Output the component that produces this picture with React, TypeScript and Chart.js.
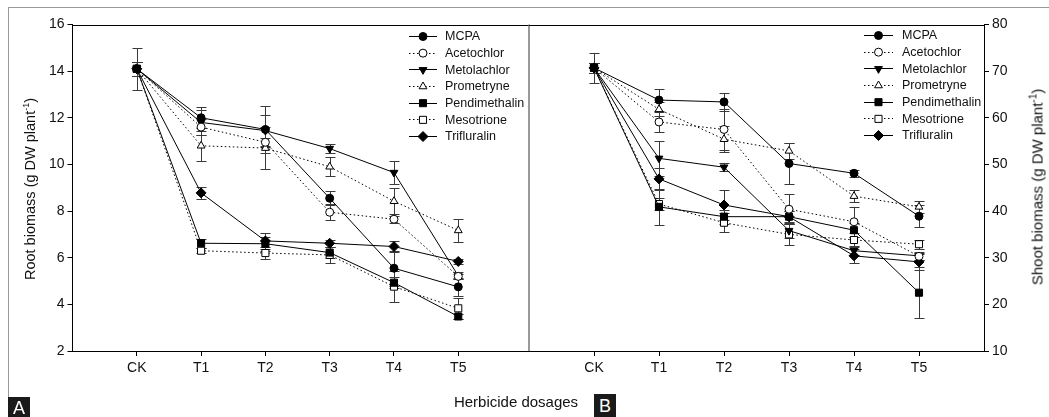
import React, { useEffect, useRef } from 'react';
import { Chart, registerables } from 'chart.js';
import { drawPoint } from 'chart.js/helpers';

Chart.register(...registerables);

// ---------- data ----------
const categories = ['CK', 'T1', 'T2', 'T3', 'T4', 'T5'];
const seriesNames = ['MCPA', 'Acetochlor', 'Metolachlor', 'Prometryne', 'Pendimethalin', 'Mesotrione', 'Trifluralin'];

const rootTicks = [2, 4, 6, 8, 10, 12, 14, 16];
const shootTicks = [10, 20, 30, 40, 50, 60, 70, 80];

// Panel A: root biomass (g DW plant-1)
const rootMCPA = [14.1, 12.0, 11.5, 8.55, 5.55, 4.75];
const rootAcetochlor = [14.1, 11.6, 10.95, 7.95, 7.65, 5.2];
const rootMetolachlor = [14.1, 11.8, 11.45, 10.68, 9.65, 5.22];
const rootPrometryne = [14.1, 10.8, 10.7, 9.9, 8.42, 7.17];
const rootPendimethalin = [14.1, 6.62, 6.6, 6.22, 4.93, 3.48];
const rootMesotrione = [14.1, 6.3, 6.2, 6.12, 4.76, 3.83];
const rootTrifluralin = [14.1, 8.78, 6.72, 6.62, 6.48, 5.84];

const rootErrMCPA = [0.9, 0.45, 1.0, 0.3, 0.75, 0.4];
const rootErrAcetochlor = [0.3, 0.35, 0.2, 0.35, 0.15, 0.1];
const rootErrMetolachlor = [0.3, 0.55, 0.65, 0.2, 0.5, 0.15];
const rootErrPrometryne = [0.3, 0.65, 0.9, 0.4, 0.55, 0.5];
const rootErrPendimethalin = [0.3, 0.2, 0.3, 0.25, 0.25, 0.1];
const rootErrMesotrione = [0.3, 0.1, 0.25, 0.35, 0.65, 0.45];
const rootErrTrifluralin = [0.3, 0.25, 0.35, 0.15, 0.25, 0.1];

// Panel B: shoot biomass (g DW plant-1)
const shootMCPA = [70.7, 63.8, 63.4, 50.2, 48.1, 38.9];
const shootAcetochlor = [70.7, 59.1, 57.5, 40.4, 37.7, 30.3];
const shootMetolachlor = [70.7, 51.3, 49.4, 35.8, 31.5, 30.4];
const shootPrometryne = [70.7, 61.8, 55.4, 52.9, 43.2, 40.9];
const shootPendimethalin = [70.7, 40.9, 38.8, 38.8, 35.9, 22.5];
const shootMesotrione = [70.7, 41.5, 37.5, 35.0, 33.8, 32.9];
const shootTrifluralin = [70.7, 46.9, 41.3, 38.8, 30.4, 29.1];

const shootErrMCPA = [3.2, 2.3, 2.0, 4.3, 0.7, 2.4];
const shootErrAcetochlor = [1.0, 2.2, 4.3, 3.2, 3.2, 0.8];
const shootErrMetolachlor = [1.0, 3.7, 0.8, 1.5, 1.0, 0.8];
const shootErrPrometryne = [1.0, 1.5, 2.8, 1.8, 1.3, 1.3];
const shootErrPendimethalin = [1.0, 3.8, 1.5, 1.3, 1.5, 5.5];
const shootErrMesotrione = [1.0, 1.2, 2.0, 2.3, 1.5, 1.0];
const shootErrTrifluralin = [1.0, 2.3, 3.2, 1.2, 1.5, 1.7];

const rootValues = [rootMCPA, rootAcetochlor, rootMetolachlor, rootPrometryne, rootPendimethalin, rootMesotrione, rootTrifluralin];
const rootErrors = [rootErrMCPA, rootErrAcetochlor, rootErrMetolachlor, rootErrPrometryne, rootErrPendimethalin, rootErrMesotrione, rootErrTrifluralin];
const shootValues = [shootMCPA, shootAcetochlor, shootMetolachlor, shootPrometryne, shootPendimethalin, shootMesotrione, shootTrifluralin];
const shootErrors = [shootErrMCPA, shootErrAcetochlor, shootErrMetolachlor, shootErrPrometryne, shootErrPendimethalin, shootErrMesotrione, shootErrTrifluralin];

// ---------- styles ----------
const FONT = '"Liberation Sans", Arial, Helvetica, sans-serif';
const seriesDotted = [false, true, false, true, false, true, false];
const seriesPointStyle = ['circle', 'circle', 'triangle', 'triangle', 'rect', 'rect', 'rectRot'];
const seriesRotation = [0, 0, 180, 0, 0, 0, 0];
const seriesRadius = [4, 4, 4.5, 4.5, 5, 5, 5];
const seriesFilled = [true, false, true, false, true, false, true];
const DOT = [1.5, 2.5];

function buildDatasets(values: number[][], errors: number[][]) {
  return seriesNames.map((name, i) => ({
    label: name,
    data: values[i].map((v, j) => ({ x: j + 1, y: v })),
    errors: errors[i],
    borderColor: '#000',
    borderWidth: 1,
    borderDash: seriesDotted[i] ? DOT : [],
    pointStyle: seriesPointStyle[i],
    pointRotation: seriesRotation[i],
    pointRadius: seriesRadius[i],
    pointBackgroundColor: seriesFilled[i] ? '#000' : '#fff',
    pointBorderColor: '#000',
    pointBorderWidth: 1,
    tension: 0,
    fill: false,
  }));
}

const errorBarPlugin = {
  id: 'errorBars',
  beforeDatasetsDraw(chart: any) {
    const ctx = chart.ctx;
    const yScale = chart.scales.y;
    ctx.save();
    ctx.strokeStyle = '#3a3a3a';
    ctx.lineWidth = 1;
    ctx.setLineDash([]);
    chart.data.datasets.forEach((ds: any, i: number) => {
      const meta = chart.getDatasetMeta(i);
      meta.data.forEach((pt: any, j: number) => {
        const v = ds.data[j].y;
        const e = ds.errors[j];
        const x = Math.round(pt.x) + 0.5;
        const yt = Math.round(yScale.getPixelForValue(v + e)) + 0.5;
        const yb = Math.round(yScale.getPixelForValue(v - e)) + 0.5;
        ctx.beginPath();
        ctx.moveTo(x, yt);
        ctx.lineTo(x, yb);
        ctx.moveTo(x - 5, yt);
        ctx.lineTo(x + 5, yt);
        ctx.moveTo(x - 5, yb);
        ctx.lineTo(x + 5, yb);
        ctx.stroke();
      });
    });
    ctx.restore();
  },
};

function makeFramePlugin(drawDivider: boolean) {
  return {
    id: 'frame',
    afterDraw(chart: any) {
      const { ctx, chartArea } = chart;
      ctx.save();
      ctx.setLineDash([]);
      ctx.strokeStyle = '#000';
      ctx.lineWidth = 1;
      ctx.beginPath();
      ctx.moveTo(chartArea.left, Math.round(chartArea.top) + 0.5);
      ctx.lineTo(chartArea.right, Math.round(chartArea.top) + 0.5);
      ctx.stroke();
      if (drawDivider) {
        ctx.strokeStyle = '#777';
        ctx.lineWidth = 1.5;
        ctx.beginPath();
        ctx.moveTo(chartArea.right, chartArea.top);
        ctx.lineTo(chartArea.right, chartArea.bottom);
        ctx.stroke();
      }
      ctx.restore();
    },
  };
}

function makeLegendPlugin(lx0: number, lx1: number, ltext: number, ly0: number, dy: number) {
  return {
    id: 'lineLegend',
    afterDraw(chart: any) {
      const ctx = chart.ctx;
      ctx.save();
      chart.data.datasets.forEach((ds: any, i: number) => {
        const y = ly0 + i * dy;
        ctx.strokeStyle = '#000';
        ctx.lineWidth = 1;
        ctx.setLineDash(ds.borderDash || []);
        ctx.beginPath();
        ctx.moveTo(lx0, Math.round(y) + 0.5);
        ctx.lineTo(lx1, Math.round(y) + 0.5);
        ctx.stroke();
        ctx.setLineDash([]);
        ctx.fillStyle = ds.pointBackgroundColor;
        ctx.strokeStyle = '#000';
        drawPoint(ctx, { pointStyle: ds.pointStyle, rotation: ds.pointRotation, radius: ds.pointRadius, borderWidth: 1 }, (lx0 + lx1) / 2, y + 0.5);
        ctx.fillStyle = '#111';
        ctx.font = `12.5px ${FONT}`;
        ctx.textBaseline = 'middle';
        ctx.textAlign = 'left';
        ctx.fillText(ds.label, ltext, y + 1);
      });
      ctx.restore();
    },
  };
}

function makeConfig(values: number[][], errors: number[][], side: 'left' | 'right') {
  const isLeft = side === 'left';
  const yTicks = isLeft ? rootTicks : shootTicks;
  return {
    type: 'line',
    data: { datasets: buildDatasets(values, errors) },
    options: {
      animation: false,
      responsive: false,
      layout: { padding: isLeft ? { top: 24.5, right: 6, left: 0, bottom: 0 } : { top: 24.5, right: 0, left: 6, bottom: 0 } },
      plugins: { legend: { display: false }, tooltip: { enabled: false } },
      scales: {
        x: {
          type: 'linear',
          min: 0,
          max: isLeft ? 7.1 : 7,
          afterBuildTicks: (s: any) => { s.ticks = categories.map((_, i) => ({ value: i + 1 })); },
          afterFit: (s: any) => { s.height = 66; },
          ticks: {
            callback: (v: any) => categories[Math.round(v) - 1] ?? '',
            font: { family: FONT, size: 14 },
            color: '#111',
            padding: 4,
            maxRotation: 0,
            autoSkip: false,
          },
          grid: { display: true, drawOnChartArea: false, drawTicks: true, tickLength: 5, color: '#000' },
          border: { display: true, color: '#000', width: 1 },
        },
        y: {
          type: 'linear',
          position: side,
          min: yTicks[0],
          max: yTicks[yTicks.length - 1],
          afterBuildTicks: (s: any) => { s.ticks = yTicks.map((v) => ({ value: v })); },
          afterFit: (s: any) => { s.width = isLeft ? 72.5 : 65; },
          ticks: {
            font: { family: FONT, size: 14 },
            color: '#111',
            padding: 3,
          },
          grid: { display: true, drawOnChartArea: false, drawTicks: true, tickLength: 5, color: '#000' },
          border: { display: true, color: '#000', width: 1 },
        },
      },
    },
    plugins: [
      errorBarPlugin,
      makeFramePlugin(isLeft),
      isLeft ? makeLegendPlugin(409, 437, 445, 36, 16.67) : makeLegendPlugin(341, 370, 379, 35, 16.67),
    ],
  };
}

function ChartCanvas({ cfg, left, width }: { cfg: () => any; left: number; width: number }) {
  const ref = useRef<HTMLCanvasElement | null>(null);
  useEffect(() => {
    if (!ref.current) return;
    const chart = new Chart(ref.current, cfg());
    return () => chart.destroy();
  }, []);
  return (
    <canvas
      ref={ref}
      width={width}
      height={417}
      style={{ position: 'absolute', left, top: 0, width, height: 417, display: 'block' }}
    />
  );
}

const textStyle: React.CSSProperties = { position: 'absolute', fontFamily: FONT, color: '#111', whiteSpace: 'nowrap' };

export default function App() {
  return (
    <div style={{ position: 'fixed', left: 0, top: 0, width: 1049, height: 417, background: '#fff', overflow: 'hidden' }}>
      <div style={{ position: 'absolute', left: 8, top: 7, width: 1041, height: 410, borderTop: '1px solid #999', borderLeft: '1px solid #999', boxSizing: 'border-box' }} />
      <ChartCanvas cfg={() => makeConfig(rootValues, rootErrors, 'left')} left={0} width={535} />
      <ChartCanvas cfg={() => makeConfig(shootValues, shootErrors, 'right')} left={523} width={526} />
      <div style={{ ...textStyle, left: 30, top: 189, fontSize: 14.5, transform: 'translate(-50%, -50%) rotate(-90deg)' }}>
        Root biomass (g DW plant<sup style={{ fontSize: 9, verticalAlign: 'super', lineHeight: 0 }}>-1</sup>)
      </div>
      <div style={{ ...textStyle, left: 1037, top: 187, fontSize: 15, transform: 'translate(-50%, -50%) rotate(-90deg)' }}>
        Shoot biomass (g DW plant<sup style={{ fontSize: 10, verticalAlign: 'super', lineHeight: 0 }}>-1</sup>)
      </div>
      <div style={{ ...textStyle, left: 516, top: 401, fontSize: 15, transform: 'translate(-50%, -50%)' }}>Herbicide dosages</div>
      <div style={{ position: 'absolute', left: 8, top: 397, width: 22, height: 20, background: '#1a1a1a', color: '#fff', fontFamily: FONT, fontSize: 18, lineHeight: '22px', textAlign: 'center' }}>A</div>
      <div style={{ position: 'absolute', left: 594, top: 394, width: 22, height: 23, background: '#1a1a1a', color: '#fff', fontFamily: FONT, fontSize: 18, lineHeight: '24px', textAlign: 'center' }}>B</div>
    </div>
  );
}
